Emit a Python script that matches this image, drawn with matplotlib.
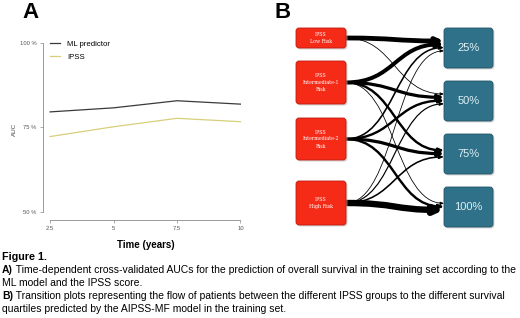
import numpy as np
import matplotlib.pyplot as plt
from matplotlib.patches import FancyBboxPatch, FancyArrowPatch
from matplotlib.path import Path

plt.rcParams['font.family'] = ['Liberation Sans', 'DejaVu Sans']

# Panel A data: time-dependent AUC (%)
years = [2.5, 5, 7.5, 10]
auc_ml = [79.6, 80.8, 82.9, 81.9]
auc_ipss = [72.3, 75.2, 77.7, 76.7]
ytick_vals = [50, 75, 100]
ytick_labels = ['50 %', '75 %', '100 %']
xtick_labels = ['2.5', '5', '7.5', '10']

# Panel B data: flows from IPSS groups (rows) to predicted quartiles (cols)
ipss_groups = ['IPSS\nLow Risk', 'IPSS\nIntermediate-1\nRisk',
               'IPSS\nIntermediate-2\nRisk', 'IPSS\nHigh Risk']
quartiles = ['25%', '50%', '75%', '100%']
flows = np.array([
    [6.0, 1.0, 0.0, 0.0],
    [5.0, 4.0, 3.0, 1.0],
    [2.0, 3.0, 4.0, 3.0],
    [1.0, 1.5, 2.0, 8.0],
])

W, H = 520, 318
fig = plt.figure(figsize=(W / 100, H / 100), dpi=100)

def fx(px):
    return px / W

def fy(py):
    return 1 - py / H

# ---------------- Panel A ----------------
ax = fig.add_axes([fx(43), fy(220), fx(248) - fx(43), fy(39.6) - fy(220)])
ax.plot(years, auc_ml, color='#3a3a3a', lw=0.9, label='ML predictor')
ax.plot(years, auc_ipss, color='#d8cf7a', lw=0.9, label='IPSS')
ax.set_xlim(2.22, 10.3)
ax.set_ylim(47.6, 101)
for s in ['top', 'right']:
    ax.spines[s].set_visible(False)
ax.spines['left'].set_bounds(50, 100)
ax.spines['bottom'].set_bounds(2.5, 10)
for s in ['left', 'bottom']:
    ax.spines[s].set_color('#8a8a8a')
    ax.spines[s].set_linewidth(0.6)
ax.set_xticks(years)
ax.set_xticklabels(xtick_labels)
ax.set_yticks(ytick_vals)
ax.set_yticklabels(ytick_labels)
ax.tick_params(labelsize=4.2, colors='#8a8a8a', labelcolor='#555555',
               length=2.5, width=0.5, pad=2)
ax.set_ylabel('AUC', fontsize=4.5, color='#444444', labelpad=2)
ax.set_xlabel('Time (years)', fontsize=7, fontweight='bold', labelpad=6)
ax.legend(loc='upper left', bbox_to_anchor=(0.0, 1.035), frameon=False,
          fontsize=5.6, handlelength=1.3, handletextpad=0.9, labelspacing=0.75)

fig.text(fx(22), fy(13), 'A', fontsize=16, fontweight='bold', va='center')
fig.text(fx(274), fy(13), 'B', fontsize=16, fontweight='bold', va='center')

# ---------------- Panel B ----------------
axb = fig.add_axes([0, 0, 1, 1])
axb.set_xlim(0, W)
axb.set_ylim(H, 0)
axb.axis('off')
axb.patch.set_alpha(0)

left_boxes = [(296, 28, 50, 20), (296, 61, 50, 43), (296, 118, 50, 42), (296, 181, 50, 44)]
right_boxes = [(444, 28, 49, 40), (444, 81, 49, 40), (444, 134, 49, 40), (444, 187, 49, 40)]

px2pt = 0.72
wscale = 0.8
for i in range(4):
    for j in range(4):
        w = flows[i, j] * wscale
        if w <= 0:
            continue
        lx, ly, lw_, lh = left_boxes[i]
        rx, ry, rw, rh = right_boxes[j]
        x0, y0 = lx + lw_, ly + lh / 2
        x1, y1 = rx, ry + 13 + 3.3 * i
        xm = (x0 + x1) / 2
        path = Path([(x0, y0), (xm, y0), (xm, y1), (x1, y1)],
                    [Path.MOVETO, Path.CURVE4, Path.CURVE4, Path.CURVE4])
        hw = (1.0 + w * 0.3) * px2pt
        hl = (2.5 + w * 0.6) * px2pt
        arr = FancyArrowPatch(path=path,
                              arrowstyle=f'-|>,head_length={hl},head_width={hw}',
                              mutation_scale=1, lw=w * px2pt, color='black',
                              shrinkA=0, shrinkB=0, zorder=2)
        axb.add_patch(arr)

for (x, y, w, h), label in zip(left_boxes, ipss_groups):
    axb.add_patch(FancyBboxPatch((x + 1.5, y + 1.5), w, h, boxstyle='round,pad=0,rounding_size=3',
                                 fc='#bbbbbb', ec='none', alpha=0.6, zorder=3))
    axb.add_patch(FancyBboxPatch((x, y), w, h, boxstyle='round,pad=0,rounding_size=3',
                                 fc='#f52a17', ec='#c01a10', lw=0.6, zorder=4))
    axb.text(x + w / 2, y + h / 2, label, ha='center', va='center', color='white',
             fontsize=3.4, family='DejaVu Serif', linespacing=1.5, zorder=5)

for (x, y, w, h), label in zip(right_boxes, quartiles):
    axb.add_patch(FancyBboxPatch((x + 1.5, y + 1.5), w, h, boxstyle='round,pad=0,rounding_size=3',
                                 fc='#bbbbbb', ec='none', alpha=0.6, zorder=3))
    axb.add_patch(FancyBboxPatch((x, y), w, h, boxstyle='round,pad=0,rounding_size=3',
                                 fc='#2f7189', ec='#235566', lw=0.6, zorder=4))
    axb.text(x + w / 2, y + h / 2, label, ha='center', va='center', color='#dff0f5',
             fontsize=8, zorder=5)

# ---------------- Caption ----------------
cap_fs = 7.45
fig.text(fx(2), fy(257), 'Figure 1.', fontsize=cap_fs + 0.3, fontweight='bold', va='center')
caption = [
    ('A)', ' Time-dependent cross-validated AUCs for the prediction of overall survival in the training set according to the'),
    ('', 'ML model and the IPSS score.'),
    ('B)', ' Transition plots representing the flow of patients between the different IPSS groups to the different survival'),
    ('', 'quartiles predicted by the AIPSS-MF model in the training set.'),
]
renderer = fig.canvas.get_renderer()
for k, (bold, rest) in enumerate(caption):
    yy = fy(270 + 13 * k)
    xx = fx(2)
    if bold:
        t = fig.text(xx, yy, bold, fontsize=cap_fs, fontweight='bold', va='center')
        bb = t.get_window_extent(renderer)
        xx = bb.x1 / W
    fig.text(xx, yy, rest, fontsize=cap_fs, va='center')

fig.savefig('out.png', dpi=100)
